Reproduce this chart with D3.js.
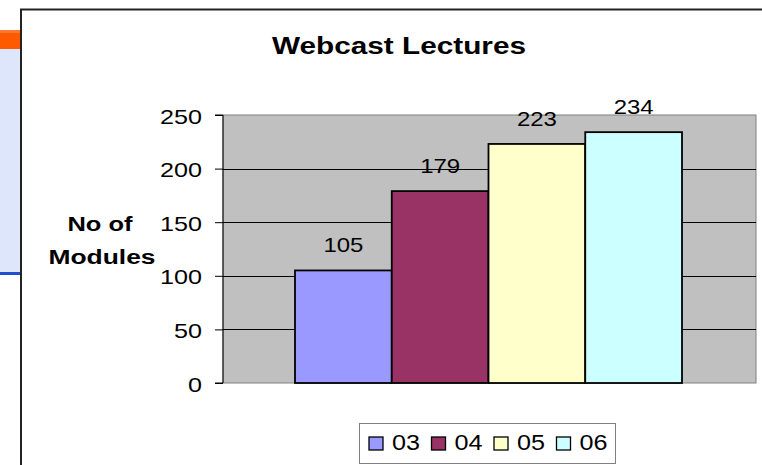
<!DOCTYPE html>
<html>
<head>
<meta charset="utf-8">
<script src="https://cdn.jsdelivr.net/npm/d3@7"></script>
<style>
  body { margin: 0; background: #fff; }
  svg { display: block; font-family: "Liberation Sans", Arial, sans-serif; }
</style>
</head>
<body>
<svg width="762" height="465"></svg>
<script>
const years = ['03', '04', '05', '06'];
const modules = [105, 179, 223, 234];
const colours = ['#9999FF', '#993366', '#FFFFCC', '#CCFFFF'];
const yTicks = [0, 50, 100, 150, 200, 250];

const svg = d3.select('svg');

// bits of the slide behind the chart
svg.append('rect').attr('x', 0).attr('y', 30).attr('width', 22).attr('height', 19).attr('fill', '#FF5A00');
svg.append('rect').attr('x', 0).attr('y', 30).attr('width', 22).attr('height', 3).attr('fill', '#FF7A30');
svg.append('rect').attr('x', 0).attr('y', 49).attr('width', 22).attr('height', 223).attr('fill', '#DDE6FA');
svg.append('rect').attr('x', 0).attr('y', 272).attr('width', 22).attr('height', 3).attr('fill', '#1F4FD0');

// chart frame
svg.append('path')
  .attr('d', 'M21,465V9.5H762')
  .attr('fill', 'none')
  .attr('stroke', '#222')
  .attr('stroke-width', 2);

const plot = { left: 223, right: 756, top: 115, bottom: 383 };

const y = d3.scaleLinear().domain([0, 250]).range([plot.bottom, plot.top]);
const x = d3.scaleBand()
  .domain(years)
  .range([295, 682])
  .paddingInner(0);

svg.append('rect')
  .attr('x', plot.left).attr('y', plot.top)
  .attr('width', plot.right - plot.left).attr('height', plot.bottom - plot.top)
  .attr('fill', '#C0C0C0')
  .attr('stroke', '#808080')
  .attr('stroke-width', 1);

svg.append('g')
  .selectAll('line')
  .data(yTicks.filter(d => d > 0 && d < 250))
  .join('line')
  .attr('x1', plot.left).attr('x2', plot.right)
  .attr('y1', d => Math.round(y(d)) + 0.5).attr('y2', d => Math.round(y(d)) + 0.5)
  .attr('stroke', '#000');

const yAxis = d3.axisLeft(y).tickValues(yTicks).tickSize(8).tickPadding(13);
const ag = svg.append('g')
  .attr('transform', `translate(${plot.left},0)`)
  .call(yAxis);
ag.select('.domain').attr('stroke', '#000').attr('d', `M-8,${plot.top}H0V${plot.bottom}H-8`);
ag.selectAll('.tick line').attr('stroke', '#000');
ag.selectAll('.tick text')
  .attr('font-size', 21)
  .attr('font-family', '"Liberation Sans", Arial, sans-serif')
  .attr('fill', '#000')
  .attr('dy', 8)
  .attr('textLength', d => String(d).length * 14)
  .attr('lengthAdjust', 'spacingAndGlyphs');

svg.append('g')
  .selectAll('rect')
  .data(modules)
  .join('rect')
  .attr('x', (d, i) => x(years[i]))
  .attr('y', d => y(d))
  .attr('width', x.bandwidth())
  .attr('height', d => y(0) - y(d))
  .attr('fill', (d, i) => colours[i])
  .attr('stroke', '#000')
  .attr('stroke-width', 1.8);

svg.append('g')
  .selectAll('text')
  .data(modules)
  .join('text')
  .attr('x', (d, i) => x(years[i]) + x.bandwidth() / 2)
  .attr('y', d => y(d) - 18)
  .attr('text-anchor', 'middle')
  .attr('font-size', 21)
  .attr('textLength', 40)
  .attr('lengthAdjust', 'spacingAndGlyphs')
  .text(d => d);

svg.append('text')
  .attr('x', 399).attr('y', 54)
  .attr('text-anchor', 'middle')
  .attr('font-size', 23)
  .attr('font-weight', 'bold')
  .attr('textLength', 254)
  .attr('lengthAdjust', 'spacingAndGlyphs')
  .text('Webcast Lectures');

const yt = svg.append('g')
  .attr('text-anchor', 'middle')
  .attr('font-size', 20)
  .attr('font-weight', 'bold');
yt.append('text').attr('x', 100).attr('y', 231)
  .attr('textLength', 65).attr('lengthAdjust', 'spacingAndGlyphs').text('No of');
yt.append('text').attr('x', 102).attr('y', 264)
  .attr('textLength', 107).attr('lengthAdjust', 'spacingAndGlyphs').text('Modules');

// legend
const lg = svg.append('g');
lg.append('rect')
  .attr('x', 359.5).attr('y', 423.5).attr('width', 256).attr('height', 40)
  .attr('fill', '#fff').attr('stroke', '#808080');
const item = lg.selectAll('g')
  .data(years)
  .join('g')
  .attr('transform', (d, i) => `translate(${369 + i * 62.5},437)`);
item.append('rect')
  .attr('width', 14).attr('height', 13)
  .attr('fill', (d, i) => colours[i])
  .attr('stroke', '#000').attr('stroke-width', 1.3);
item.append('text')
  .attr('x', 23).attr('y', 12.5)
  .attr('font-size', 22)
  .attr('textLength', 28)
  .attr('lengthAdjust', 'spacingAndGlyphs')
  .text(d => d);
</script>
</body>
</html>
